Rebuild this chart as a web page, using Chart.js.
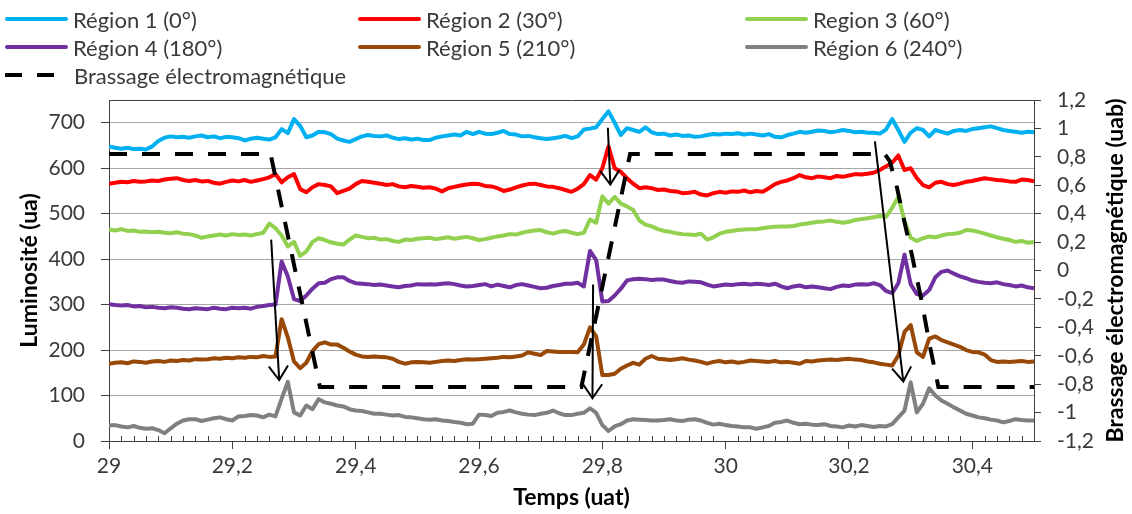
<!DOCTYPE html>
<html lang="fr">
<head>
<meta charset="utf-8">
<title>Luminosité et brassage électromagnétique</title>
<script src="https://cdn.jsdelivr.net/npm/chart.js@4.4.0/dist/chart.umd.min.js"></script>
<style>
  html, body { margin: 0; padding: 0; background: #fff; }
  #cadre { position: relative; width: 1132px; height: 514px; overflow: hidden; }
  #graphique { position: absolute; left: 0; top: 0; }
  .legende { position: absolute; height: 26px; display: flex; align-items: center;
             font: 22px Lato, sans-serif; color: #3a3a3a; white-space: nowrap; }
  .trait { display: inline-block; width: 63px; height: 4px; margin-right: 5px; border-radius: 2px; }
  .tiret { display: inline-block; width: 17px; height: 4px; background: #000; margin-right: 15px; }
</style>
</head>
<body>
<div id="cadre">
  <canvas id="graphique" width="1132" height="514"></canvas>
</div>
<script>
// temps (uat), un point tous les 0,01
const temps = [
  29.00, 29.01, 29.02, 29.03, 29.04, 29.05, 29.06, 29.07, 29.08, 29.09,
  29.10, 29.11, 29.12, 29.13, 29.14, 29.15, 29.16, 29.17, 29.18, 29.19,
  29.20, 29.21, 29.22, 29.23, 29.24, 29.25, 29.26, 29.27, 29.28, 29.29,
  29.30, 29.31, 29.32, 29.33, 29.34, 29.35, 29.36, 29.37, 29.38, 29.39,
  29.40, 29.41, 29.42, 29.43, 29.44, 29.45, 29.46, 29.47, 29.48, 29.49,
  29.50, 29.51, 29.52, 29.53, 29.54, 29.55, 29.56, 29.57, 29.58, 29.59,
  29.60, 29.61, 29.62, 29.63, 29.64, 29.65, 29.66, 29.67, 29.68, 29.69,
  29.70, 29.71, 29.72, 29.73, 29.74, 29.75, 29.76, 29.77, 29.78, 29.79,
  29.80, 29.81, 29.82, 29.83, 29.84, 29.85, 29.86, 29.87, 29.88, 29.89,
  29.90, 29.91, 29.92, 29.93, 29.94, 29.95, 29.96, 29.97, 29.98, 29.99,
  30.00, 30.01, 30.02, 30.03, 30.04, 30.05, 30.06, 30.07, 30.08, 30.09,
  30.10, 30.11, 30.12, 30.13, 30.14, 30.15, 30.16, 30.17, 30.18, 30.19,
  30.20, 30.21, 30.22, 30.23, 30.24, 30.25, 30.26, 30.27, 30.28, 30.29,
  30.30, 30.31, 30.32, 30.33, 30.34, 30.35, 30.36, 30.37, 30.38, 30.39,
  30.40, 30.41, 30.42, 30.43, 30.44, 30.45, 30.46, 30.47, 30.48, 30.49,
  30.50
];

// luminosité (ua) par région
const region1 = [
  648, 645, 643, 645, 642, 643, 641, 648, 660, 667,
  670, 668, 669, 667, 670, 672, 668, 670, 666, 669,
  668, 666, 661, 665, 667, 665, 663, 668, 686, 677,
  708, 693, 668, 672, 680, 679, 675, 665, 661, 658,
  664, 670, 673, 671, 670, 672, 667, 664, 666, 663,
  665, 662, 662, 667, 670, 672, 674, 672, 680, 675,
  680, 676, 675, 678, 682, 675, 674, 670, 671, 668,
  666, 664, 666, 668, 671, 666, 670, 685, 687, 690,
  708, 725, 700, 673, 688, 684, 680, 690, 679, 675,
  676, 672, 674, 671, 672, 669, 670, 673, 675, 674,
  676, 675, 677, 674, 676, 674, 672, 675, 669, 668,
  673, 676, 680, 678, 680, 683, 682, 679, 681, 684,
  682, 679, 680, 678, 678, 676, 685, 708, 684, 658,
  678, 688, 684, 670, 684, 680, 676, 682, 684, 682,
  686, 688, 690, 692, 688, 684, 682, 680, 678, 680,
  679
];
const region2 = [
  566, 568, 570, 569, 572, 570, 571, 573, 572, 575,
  577, 578, 574, 572, 574, 571, 572, 568, 566, 570,
  573, 571, 574, 570, 573, 576, 580, 587, 569, 580,
  587, 554, 547, 558, 565, 563, 560, 545, 550, 555,
  565, 572, 570, 568, 566, 563, 565, 560, 558, 561,
  559, 557, 558, 555, 549, 556, 559, 562, 564, 566,
  565, 561, 560, 556, 550, 553, 558, 562, 565, 566,
  563, 560, 559, 556, 552, 548, 555, 565, 585, 575,
  600, 648, 600, 592, 578, 566, 556, 558, 556, 552,
  553, 550, 549, 545, 546, 548, 542, 540, 545, 548,
  546, 549, 548, 551, 547, 550, 548, 556, 565, 570,
  573, 578, 585, 580, 578, 582, 580, 578, 583, 581,
  584, 587, 586, 588, 590, 596, 604, 612, 628, 596,
  600, 578, 563, 558, 568, 570, 565, 563, 566, 570,
  572, 575, 578, 576, 574, 573, 571, 570, 575, 574,
  571
];
const region3 = [
  465, 463, 466, 462, 463, 460, 461, 459, 460, 458,
  457, 459, 456, 455, 452, 447, 450, 452, 454, 452,
  455, 453, 454, 452, 455, 458, 478, 468, 452, 428,
  438, 407, 417, 438, 446, 442, 437, 434, 432, 443,
  452, 449, 446, 447, 443, 444, 440, 438, 443, 442,
  445, 446, 447, 444, 446, 448, 445, 447, 449, 446,
  442, 444, 447, 450, 452, 455, 454, 458, 461, 463,
  464, 459, 456, 460, 462, 458, 455, 458, 487, 480,
  538, 522, 537, 522, 516, 508, 485, 476, 472, 466,
  462, 460, 457, 455, 454, 453, 456, 443, 448, 456,
  460, 462, 464, 465, 466, 466, 468, 470, 471, 472,
  472, 473, 476, 478, 480, 482, 483, 485, 482, 480,
  482, 486, 488, 490, 492, 495, 493, 513, 537, 484,
  447, 440, 446, 450, 448, 452, 455, 456, 458, 464,
  463, 460, 456, 452, 448, 445, 442, 438, 440, 436,
  438
];
const region4 = [
  301, 299, 298, 299, 296, 297, 294, 295, 293, 292,
  294, 293, 291, 290, 292, 291, 290, 293, 291, 290,
  293, 292, 293, 291, 295, 297, 299, 300, 395, 362,
  312, 308, 320, 335, 347, 348, 356, 360, 360, 352,
  347, 346, 345, 343, 344, 342, 340, 338, 341, 342,
  345, 344, 345, 344, 346, 347, 345, 342, 340, 341,
  343, 345, 340, 344, 341, 338, 343, 345, 342, 339,
  336, 337, 341, 343, 346, 346, 348, 340, 418, 398,
  307, 308, 320, 335, 353, 356, 357, 356, 354, 355,
  355, 352, 349, 348, 351, 350, 349, 344, 340, 342,
  344, 343, 345, 346, 344, 346, 345, 343, 346, 340,
  336, 340, 342, 338, 340, 338, 336, 334, 339, 342,
  341, 344, 345, 344, 347, 343, 330, 325, 347, 410,
  345, 323, 320, 332, 360, 372, 375, 368, 362, 358,
  353, 350, 348, 347, 349, 345, 343, 340, 342, 338,
  336
];
const region5 = [
  170, 172, 173, 171, 175, 174, 172, 175, 176, 174,
  177, 176, 178, 177, 180, 179, 180, 182, 181, 183,
  182, 184, 183, 185, 184, 187, 185, 186, 268, 228,
  175, 160, 172, 198, 213, 217, 212, 212, 205, 197,
  190, 186, 185, 186, 185, 184, 181, 174, 170, 173,
  174, 173, 172, 174, 176, 177, 176, 178, 180, 179,
  180, 181, 182, 183, 185, 184, 186, 188, 195, 192,
  189, 198, 197, 196, 196, 196, 195, 212, 250, 230,
  145, 145, 148, 159, 166, 172, 168, 181, 187, 181,
  180, 178, 180, 182, 179, 177, 174, 170, 174, 176,
  173, 175, 172, 174, 177, 176, 175, 174, 176, 173,
  174, 172, 170, 176, 175, 177, 178, 179, 178, 180,
  181, 179, 178, 175, 173, 170, 168, 166, 188, 240,
  255, 195, 185, 225, 230, 222, 217, 212, 207, 200,
  196, 195, 190, 178, 174, 175, 174, 175, 176, 174,
  175
];
const region6 = [
  34, 35, 32, 30, 33, 29, 27, 28, 24, 17,
  28, 38, 45, 48, 48, 44, 47, 50, 52, 48,
  45, 54, 55, 57, 56, 52, 58, 54, 93, 130,
  63, 56, 78, 70, 92, 85, 82, 78, 76, 70,
  67, 66, 63, 60, 60, 58, 56, 57, 53, 52,
  50, 48, 47, 48, 45, 44, 42, 40, 37, 38,
  58, 57, 55, 62, 64, 67, 63, 60, 58, 57,
  60, 62, 67, 61, 57, 57, 60, 62, 72, 62,
  35, 22, 32, 37, 45, 48, 47, 46, 45, 45,
  46, 48, 45, 44, 47, 48, 45, 40, 36, 38,
  35, 33, 32, 30, 30, 27, 30, 33, 40, 42,
  45, 40, 37, 38, 36, 35, 37, 33, 32, 30,
  34, 32, 35, 33, 31, 33, 32, 37, 52, 67,
  129, 63, 82, 116, 100, 89, 82, 74, 67, 60,
  56, 52, 50, 47, 45, 41, 44, 48, 46, 45,
  45
];

// brassage électromagnétique (uab), axe de droite
const brassageTemps = [29, 29.262, 29.342, 29.766, 29.845, 30.258, 30.266, 30.277, 30.29, 30.302, 30.318, 30.332, 30.345, 30.5];
const brassageValeurs = [0.82, 0.82, -0.82, -0.82, 0.82, 0.82, 0.77, 0.60, 0.34, 0.11, -0.22, -0.55, -0.82, -0.82];

// flèches : [t début, lum. début, t fin, lum. fin]
const fleches = [
  [29.263, 443, 29.276, 134],
  [29.809, 689, 29.813, 564],
  [29.785, 344, 29.784, 94],
  [30.242, 659, 30.288, 131]
];

const noms = ['Région 1 (0°)', 'Région 2 (30°)', 'Region 3 (60°)', 'Région 4 (180°)', 'Région 5 (210°)', 'Région 6 (240°)'];
const couleurs = ['#00b0f0', '#ff0000', '#92d050', '#7030a0', '#984807', '#808080'];
const series = [region1, region2, region3, region4, region5, region6];

const ticksTemps = [29, 29.2, 29.4, 29.6, 29.8, 30, 30.2, 30.4];
const ticksLum = [0, 100, 200, 300, 400, 500, 600, 700];
const ticksBrassage = [-1.2, -1, -0.8, -0.6, -0.4, -0.2, 0, 0.2, 0.4, 0.6, 0.8, 1, 1.2];

const axe = '#404040';
const grille = '#a6a6a6';
const texte = '#3a3a3a';
const virgule = v => String(Math.round(v * 10) / 10).replace('.', ',');

// légende en HTML, 3 colonnes
const cadre = document.getElementById('cadre');
const colX = [5, 358, 745];
const ligneY = [19, 47, 75];
noms.forEach((nom, i) => {
  const item = document.createElement('div');
  item.className = 'legende';
  item.style.left = colX[i % 3] + 'px';
  item.style.top = (ligneY[Math.floor(i / 3)] - 13) + 'px';
  item.innerHTML = '<span class="trait" style="background:' + couleurs[i] + '"></span>' + nom;
  cadre.appendChild(item);
});
const itemBrassage = document.createElement('div');
itemBrassage.className = 'legende';
itemBrassage.style.left = colX[0] + 'px';
itemBrassage.style.top = (ligneY[2] - 13) + 'px';
itemBrassage.innerHTML = '<span class="tiret"></span><span class="tiret" style="margin-right:20px"></span>Brassage électromagnétique';
cadre.appendChild(itemBrassage);

// petites graduations de l'axe des temps (tous les 0,02)
const graduations = {
  id: 'graduations',
  afterDraw(chart) {
    const x = chart.scales.x;
    const bas = chart.chartArea.bottom;
    const ctx = chart.ctx;
    ctx.save();
    ctx.strokeStyle = axe;
    ctx.lineWidth = 1;
    for (let k = 1; k < 75; k++) {
      if (k % 10 === 0) continue;
      const px = Math.round(x.getPixelForValue(29 + k * 0.02)) + 0.5;
      ctx.beginPath();
      ctx.moveTo(px, bas);
      ctx.lineTo(px, bas - 5);
      ctx.stroke();
    }
    ctx.restore();
  }
};

// pointes des flèches
const pointes = {
  id: 'pointes',
  afterDatasetsDraw(chart) {
    const ctx = chart.ctx;
    ctx.save();
    ctx.strokeStyle = '#000';
    ctx.lineWidth = 2;
    chart.data.datasets.forEach((ds, i) => {
      if (!ds.fleche) return;
      const pts = chart.getDatasetMeta(i).data;
      const a = pts[0], b = pts[1];
      const ang = Math.atan2(b.y - a.y, b.x - a.x);
      ctx.beginPath();
      ctx.moveTo(b.x - 17 * Math.cos(ang - 0.6), b.y - 17 * Math.sin(ang - 0.6));
      ctx.lineTo(b.x, b.y);
      ctx.lineTo(b.x - 17 * Math.cos(ang + 0.6), b.y - 17 * Math.sin(ang + 0.6));
      ctx.stroke();
    });
    ctx.restore();
  }
};

// titre de l'axe de droite, lu de bas en haut
const titreDroite = {
  id: 'titreDroite',
  afterDraw(chart) {
    const {ctx, chartArea} = chart;
    ctx.save();
    ctx.translate(1116, (chartArea.top + chartArea.bottom) / 2);
    ctx.rotate(-Math.PI / 2);
    ctx.font = 'bold 23px Lato';
    ctx.fillStyle = '#000';
    ctx.textAlign = 'center';
    ctx.textBaseline = 'middle';
    ctx.fillText('Brassage électromagnétique (uab)', 0, 0);
    ctx.restore();
  }
};

const datasets = [];
fleches.forEach(f => {
  datasets.push({
    label: '',
    fleche: true,
    data: [{x: f[0], y: f[1]}, {x: f[2], y: f[3]}],
    borderColor: '#000',
    borderWidth: 2,
    pointRadius: 0,
    yAxisID: 'y',
    order: 0
  });
});
datasets.push({
  label: 'Brassage électromagnétique',
  data: brassageTemps.map((t, i) => ({x: t, y: brassageValeurs[i]})),
  borderColor: '#000',
  borderWidth: 4,
  borderDash: [18, 15],
  pointRadius: 0,
  yAxisID: 'y2',
  order: 1
});
series.forEach((valeurs, s) => {
  datasets.push({
    label: noms[s],
    data: temps.map((t, i) => ({x: t, y: valeurs[i]})),
    borderColor: couleurs[s],
    borderWidth: 4,
    borderJoinStyle: 'round',
    pointRadius: 0,
    yAxisID: 'y',
    order: 2 + s
  });
});

Promise.all([document.fonts.load('22px Lato'), document.fonts.load('bold 23px Lato')]).then(() => {
  new Chart(document.getElementById('graphique'), {
    type: 'line',
    data: { datasets: datasets },
    options: {
      responsive: false,
      animation: false,
      layout: { padding: { top: 100, left: 0, right: 0, bottom: 0 } },
      plugins: { legend: { display: false }, tooltip: { enabled: false } },
      scales: {
        x: {
          type: 'linear', min: 29, max: 30.5,
          afterBuildTicks: s => { s.ticks = ticksTemps.map(v => ({value: v})); },
          afterFit: s => { s.height = 73; },
          grid: { drawOnChartArea: false, tickLength: 8, tickColor: axe },
          border: { color: axe },
          ticks: { padding: 5, color: texte, maxRotation: 0, font: { family: 'Lato', size: 21 }, callback: v => virgule(v) },
          title: { display: true, text: 'Temps (uat)', color: '#000', font: { family: 'Lato', size: 23, weight: 'bold' }, padding: { top: 0, bottom: 3 } }
        },
        y: {
          position: 'left', min: 0, max: 750,
          afterBuildTicks: s => { s.ticks = ticksLum.map(v => ({value: v})); },
          afterFit: s => { s.width = 109; },
          grid: { color: grille, tickLength: 8, tickColor: axe },
          border: { color: axe },
          ticks: { padding: 16, color: texte, font: { family: 'Lato', size: 21 } },
          title: { display: true, text: 'Luminosité (ua)', color: '#000', font: { family: 'Lato', size: 23, weight: 'bold' }, padding: { top: 16 } }
        },
        y2: {
          position: 'right', min: -1.2, max: 1.2,
          afterBuildTicks: s => { s.ticks = ticksBrassage.map(v => ({value: v})); },
          afterFit: s => { s.width = 98; },
          grid: { color: c => (c.tick && c.tick.value > 1.19) ? axe : 'transparent', tickLength: 7, tickColor: axe },
          border: { color: axe },
          ticks: { padding: 16, color: texte, font: { family: 'Lato', size: 21 }, callback: v => virgule(v) }
        }
      }
    },
    plugins: [graduations, pointes, titreDroite]
  });
});
</script>
</body>
</html>
